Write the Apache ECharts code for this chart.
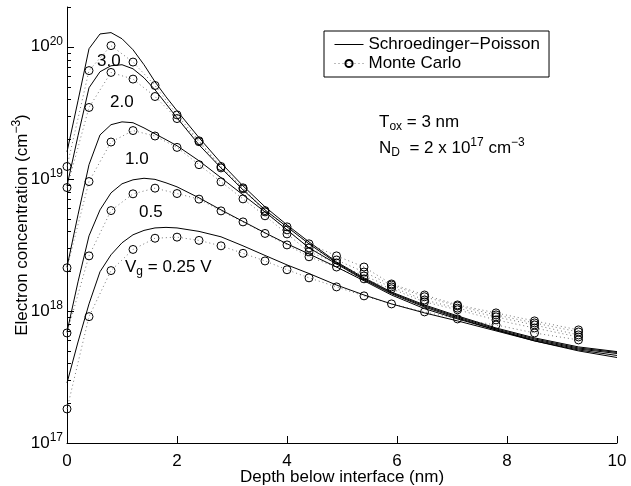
<!DOCTYPE html>
<html>
<head>
<meta charset="utf-8">
<script src="https://cdn.jsdelivr.net/npm/echarts@6/dist/echarts.min.js"></script>
<style>html,body{margin:0;padding:0;background:#fff}#main{width:631px;height:486px}</style>
</head>
<body>
<div id="main"></div>
<script>
// depth below interface (nm)
var spDepth = [0,0.2,0.4,0.6,0.8,1.0,1.2,1.4,1.6,1.8,2.0,2.4,2.8,3.2,3.6,4.0,4.4,4.9,5.4,5.9,6.5,7.1,7.8,8.5,9.3,10];
var mcDepth = [0,0.4,0.8,1.2,1.6,2.0,2.4,2.8,3.2,3.6,4.0,4.4,4.9,5.4,5.9,6.5,7.1,7.8,8.5,9.3];

// Schroedinger-Poisson, Vg = 3.0, 2.0, 1.0, 0.5, 0.25 V
var sp30 = [1.60e19,3.90e19,9.66e19,1.25e20,1.28e20,1.15e20,9.49e19,7.31e19,5.43e19,4.18e19,3.28e19,2.05e19,1.32e19,8.85e18,6.14e18,4.48e18,3.33e18,2.35e18,1.78e18,1.39e18,1.11e18,9.17e17,7.43e17,6.25e17,5.34e17,4.92e17];
var sp20 = [8.85e18,2.12e19,4.89e19,6.47e19,7.18e19,7.31e19,6.81e19,5.82e19,4.72e19,3.70e19,2.90e19,1.81e19,1.21e19,8.25e18,5.82e18,4.33e18,3.22e18,2.31e18,1.75e18,1.37e18,1.09e18,9.01e17,7.31e17,6.14e17,5.24e17,4.85e17];
var sp10 = [2.15e18,5.34e18,1.28e19,2.15e19,2.57e19,2.70e19,2.66e19,2.43e19,2.19e19,1.98e19,1.78e19,1.37e19,1.02e19,7.56e18,5.62e18,4.11e18,3.00e18,2.27e18,1.72e18,1.35e18,1.07e18,8.85e17,7.18e17,6.03e17,5.15e17,4.76e17];
var sp05 = [6.93e17,1.66e18,3.70e18,5.82e18,7.83e18,9.17e18,9.83e18,1.01e19,9.91e18,9.33e18,8.70e18,7.18e18,5.82e18,4.76e18,3.90e18,3.22e18,2.70e18,2.15e18,1.69e18,1.32e18,1.04e18,8.70e17,7.18e17,5.93e17,5.06e17,4.60e17];
var sp025 = [2.85e17,5.82e17,1.13e18,1.98e18,2.66e18,3.28e18,3.77e18,4.07e18,4.25e18,4.29e18,4.25e18,4.00e18,3.64e18,3.11e18,2.63e18,2.23e18,1.92e18,1.57e18,1.32e18,1.13e18,9.66e17,8.40e17,7.06e17,5.93e17,4.98e17,4.44e17];

// Monte Carlo
var mc30 = [1.24e19,6.60e19,1.02e20,7.66e19,5.09e19,3.05e19,1.94e19,1.24e19,8.55e18,5.75e18,4.33e18,3.22e18,2.61e18,2.15e18,1.60e18,1.32e18,1.11e18,9.66e17,8.40e17,7.18e17];
var mc20 = [8.59e18,3.47e19,6.39e19,5.69e19,4.20e19,2.86e19,1.91e19,1.21e19,8.40e18,5.62e18,4.11e18,3.00e18,2.43e18,1.97e18,1.57e18,1.28e18,1.09e18,9.33e17,8.11e17,6.93e17];
var mc10 = [2.12e18,9.54e18,1.90e19,2.32e19,2.11e19,1.73e19,1.28e19,9.49e18,7.05e18,5.25e18,3.83e18,2.80e18,2.31e18,1.84e18,1.52e18,1.21e18,1.05e18,9.01e17,7.83e17,6.58e17];
var mc05 = [6.81e17,2.61e18,5.75e18,7.70e18,8.50e18,7.74e18,7.02e18,5.72e18,4.72e18,3.86e18,3.16e18,2.57e18,2.15e18,1.75e18,1.47e18,1.17e18,1.02e18,8.55e17,7.43e17,6.35e17];
var mc025 = [1.81e17,9.05e17,2.02e18,2.92e18,3.55e18,3.62e18,3.42e18,3.11e18,2.73e18,2.39e18,2.05e18,1.78e18,1.52e18,1.30e18,1.13e18,9.83e17,8.70e17,7.83e17,6.81e17,6.03e17];

// y axis ticks (log decades + matlab style minor ticks)
var majorTicks = [1e17,1e18,1e19,1e20];
var minorTicks = [2e17,3e17,4e17,5e17,6e17,7e17,8e17,9e17,
                  2e18,3e18,4e18,5e18,6e18,7e18,8e18,9e18,
                  2e19,3e19,4e19,5e19,6e19,7e19,8e19,9e19,2e20];

var FONT = '"Liberation Sans", Arial, Helvetica, sans-serif';
var SP = 'Schroedinger\u2212Poisson';
var MC = 'Monte Carlo';

function pairs(xs, ys){
    return xs.map(function(x, i){ return [x, ys[i]]; });
}
function tickSeries(vals, len){
    return {
        type: 'custom', silent: true, clip: false, z: 5,
        data: vals.map(function(v){ return [0, v]; }),
        renderItem: function(params, api){
            var p = api.coord([api.value(0), api.value(1)]);
            var y = Math.round(p[1]) + 0.5;
            return {type: 'line', shape: {x1: p[0], y1: y, x2: p[0] + len, y2: y},
                    style: {stroke: '#000', lineWidth: 1}};
        }
    };
}

var chart = echarts.init(document.getElementById('main'));
var series = [];
[sp30, sp20, sp10, sp05, sp025].forEach(function(s){
    series.push({
        name: SP, type: 'line', data: pairs(spDepth, s),
        symbol: 'none', itemStyle: {color: '#000'},
        lineStyle: {color: '#000', width: 1}, z: 3
    });
});
[mc30, mc20, mc10, mc05, mc025].forEach(function(s){
    series.push({
        name: MC, type: 'line', data: pairs(mcDepth, s),
        symbol: 'circle', symbolSize: 8, showSymbol: true,
        itemStyle: {color: 'rgba(255,255,255,0)', borderColor: '#000', borderWidth: 1},
        lineStyle: {color: '#777', width: 1, type: [1, 3]}, z: 2
    });
});
series.push(tickSeries(majorTicks, 7));
series.push(tickSeries(minorTicks, 4));

var subSty = {fontSize: 12, fontFamily: FONT, padding: [10, 0, 0, 0]};
var supSty = {fontSize: 12, fontFamily: FONT, padding: [0, 0, 10, 0]};
function txt(x, y, s){
    return {type: 'text', x: x, y: y, silent: true,
            style: {text: s, fontSize: 17, fontFamily: FONT, fill: '#000',
                    textVerticalAlign: 'middle', verticalAlign: 'middle',
                    rich: {sub: subSty, sup: supSty}}};
}

var option = {
    animation: false,
    backgroundColor: '#fff',
    textStyle: {fontFamily: FONT},
    grid: {left: 67, right: 14, top: 7, bottom: 43, containLabel: false, outerBoundsMode: 'none'},
    legend: {
        data: [
            {name: SP, itemStyle: {color: 'rgba(0,0,0,0)', borderColor: 'rgba(0,0,0,0)', borderWidth: 0},
             lineStyle: {width: 1, color: '#000'}},
            {name: MC, lineStyle: {width: 1, color: '#777', type: [1, 3]}}
        ],
        orient: 'vertical', left: 324, top: 31,
        itemWidth: 29, itemHeight: 9, itemGap: 2,
        padding: [5, 9, 5, 10],
        borderColor: '#000', borderWidth: 1, backgroundColor: '#fff',
        textStyle: {fontSize: 17, fontFamily: FONT, color: '#000'}
    },
    xAxis: {
        type: 'value', min: 0, max: 10, interval: 2,
        name: 'Depth below interface (nm)', nameLocation: 'middle', nameGap: 26,
        nameMoveOverlap: false,
        nameTextStyle: {fontSize: 17, fontFamily: FONT, color: '#000'},
        axisLine: {lineStyle: {color: '#000', width: 1}},
        axisTick: {inside: true, length: 7, lineStyle: {color: '#000'}},
        axisLabel: {fontSize: 17, fontFamily: FONT, color: '#000', margin: 10},
        splitLine: {show: false}
    },
    yAxis: {
        type: 'log', logBase: 10, min: 1e17, max: 2e20, splitNumber: 3,
        name: 'Electron concentration (cm{s|\u22123})', nameLocation: 'middle', nameGap: 34,
        nameRotate: 90, nameMoveOverlap: false,
        nameTextStyle: {fontSize: 17, fontFamily: FONT, color: '#000',
                        rich: {s: {fontSize: 12, fontFamily: FONT, padding: [0, 0, 10, 0]}}},
        axisLine: {lineStyle: {color: '#000', width: 1}},
        axisTick: {show: false},
        axisLabel: {
            margin: 4, color: '#000',
            formatter: function(v){
                var e = Math.log10(v);
                var r = Math.round(e);
                if (Math.abs(e - r) > 1e-6) return '';
                return '{b|10}{s|' + r + '}';
            },
            rich: {
                b: {fontSize: 17, fontFamily: FONT, color: '#000'},
                s: {fontSize: 12, fontFamily: FONT, color: '#000', padding: [0, 0, 10, 0]}
            }
        },
        splitLine: {show: false}
    },
    graphic: [
        txt(97, 61, '3.0'),
        txt(110, 102, '2.0'),
        txt(125, 159, '1.0'),
        txt(139, 212, '0.5'),
        txt(125, 267, 'V{sub|g} = 0.25 V'),
        txt(379, 122, 'T{sub|ox} = 3 nm'),
        txt(379, 148, 'N{sub|D}  = 2 x 10{sup|17} cm{sup|\u22123}')
    ],
    series: series
};
chart.setOption(option);
</script>
</body>
</html>
